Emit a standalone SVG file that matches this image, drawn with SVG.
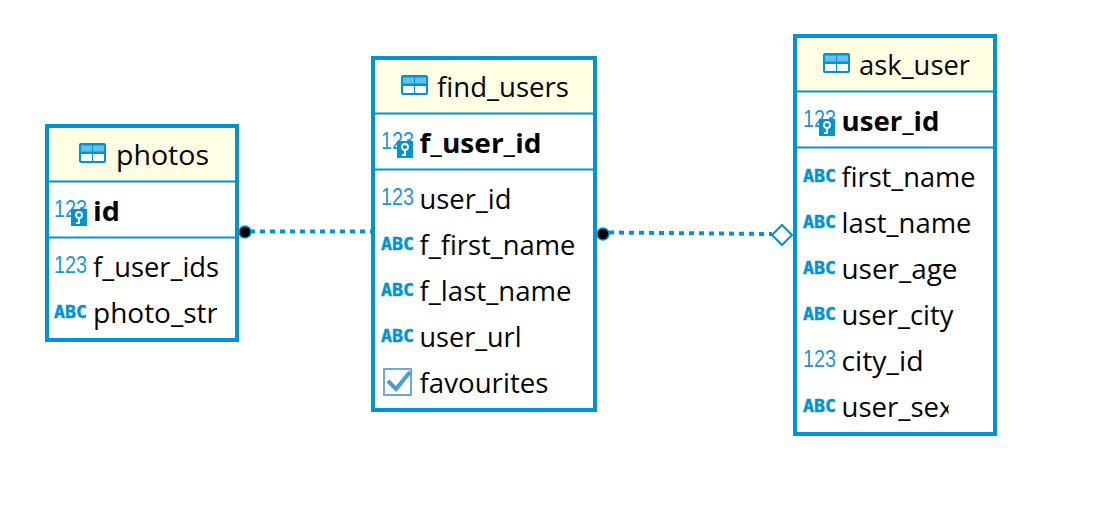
<svg xmlns="http://www.w3.org/2000/svg" width="1108" height="518" viewBox="0 0 1108 518">
<style>
.box{fill:#fff;stroke:#0293d3;stroke-width:4}
.head{fill:#ffffe3}
.sep{stroke:#0293d3;stroke-width:2;fill:none}
.t{font-family:"Open Sans","Noto Sans",sans-serif;font-size:27px;fill:#050505}
.b{font-weight:700}
.n{font-family:"Liberation Sans",sans-serif;font-size:23px;fill:#1f96d6}
.a{font-family:"DejaVu Sans Mono",monospace;font-weight:700;font-size:18px;fill:#0293d3;stroke:#0293d3;stroke-width:.5px}
.conn{stroke:#0293d3;stroke-width:4;stroke-dasharray:5 5;fill:none}
</style>
<defs>
<g id="tbl"><rect x="0" y="0" width="27" height="20" rx="2" fill="#0293d3"/><rect x="2" y="2.500" width="11" height="6" fill="#62c0ee"/><rect x="14" y="2.500" width="11" height="6" fill="#62c0ee"/><rect x="2" y="11" width="11" height="7" fill="#fff"/><rect x="14" y="11" width="11" height="7" fill="#fff"/></g>
<g id="key"><rect x="0" y="0" width="16" height="17" fill="#0293d3"/><circle cx="8" cy="6" r="3" fill="none" stroke="#fff" stroke-width="1.800"/><path d="M8 9v5h-3" fill="none" stroke="#fff" stroke-width="1.800"/></g>
<clipPath id="c1"><rect x="49" y="240" width="168" height="98"/></clipPath>
<clipPath id="c3"><rect x="798" y="150" width="150.500" height="282"/></clipPath>
</defs>
<g id="connectors">
<path class="conn" d="M250 231.500H373"/>
<path class="conn" d="M609 232.500L772 234"/>
<circle cx="245" cy="232" r="6" fill="#000" stroke="#0293d3" stroke-width="1.500"/>
<circle cx="603" cy="234" r="6" fill="#000" stroke="#0293d3" stroke-width="1.500"/>
<path d="M772 235L782 225L792 235L782 245Z" fill="#fff" stroke="#0293d3" stroke-width="2"/>
</g>
<g id="photos">
<rect class="box" x="47" y="126" width="190" height="214"/>
<rect class="head" x="49" y="128" width="186" height="53"/>
<path class="sep" d="M49 181.500H235M49 237.500H235"/>
<use href="#tbl" x="79" y="143"/>
<text class="t" x="116" y="165" textLength="93" lengthAdjust="spacingAndGlyphs">photos</text>
<text class="n" x="54" y="217" textLength="33" lengthAdjust="spacingAndGlyphs">123</text><use href="#key" x="71" y="209"/>
<text class="t b" x="93" y="221" textLength="27" lengthAdjust="spacingAndGlyphs">id</text>
<text class="n" x="54" y="273" textLength="33" lengthAdjust="spacingAndGlyphs">123</text>
<text class="t" x="93" y="277" textLength="126" lengthAdjust="spacingAndGlyphs">f_user_ids</text>
<text class="a" x="54" y="318" textLength="33" lengthAdjust="spacingAndGlyphs">ABC</text>
<g clip-path="url(#c1)"><text class="t" x="93" y="323" textLength="125" lengthAdjust="spacingAndGlyphs">photo_str</text></g>
</g>
<g id="find_users">
<rect class="box" x="373" y="58" width="222" height="352"/>
<rect class="head" x="375" y="60" width="218" height="53"/>
<path class="sep" d="M375 113.500H593M375 169.500H593"/>
<use href="#tbl" x="401" y="75"/>
<text class="t" x="437" y="97" textLength="132" lengthAdjust="spacingAndGlyphs">find_users</text>
<text class="n" x="381" y="149" textLength="33" lengthAdjust="spacingAndGlyphs">123</text><use href="#key" x="397" y="141"/>
<text class="t b" x="419.500" y="153" textLength="122" lengthAdjust="spacingAndGlyphs">f_user_id</text>
<text class="n" x="381" y="205" textLength="33" lengthAdjust="spacingAndGlyphs">123</text>
<text class="t" x="419.500" y="209" textLength="92" lengthAdjust="spacingAndGlyphs">user_id</text>
<text class="a" x="381" y="250" textLength="33" lengthAdjust="spacingAndGlyphs">ABC</text>
<text class="t" x="419.500" y="255" textLength="156" lengthAdjust="spacingAndGlyphs">f_first_name</text>
<text class="a" x="381" y="296" textLength="33" lengthAdjust="spacingAndGlyphs">ABC</text>
<text class="t" x="419.500" y="301" textLength="152" lengthAdjust="spacingAndGlyphs">f_last_name</text>
<text class="a" x="381" y="342" textLength="33" lengthAdjust="spacingAndGlyphs">ABC</text>
<text class="t" x="419.500" y="347" textLength="102" lengthAdjust="spacingAndGlyphs">user_url</text>
<rect x="384" y="369" width="27" height="26" fill="#fff" stroke="#6fa8d8" stroke-width="2"/>
<path d="M388 381L396 389L410 372" fill="none" stroke="#4a9bdc" stroke-width="4"/>
<text class="t" x="419.500" y="393" textLength="129" lengthAdjust="spacingAndGlyphs">favourites</text>
</g>
<g id="ask_user">
<rect class="box" x="795" y="36" width="200" height="398"/>
<rect class="head" x="797" y="38" width="196" height="53"/>
<path class="sep" d="M797 91.500H993M797 147.500H993"/>
<use href="#tbl" x="823" y="53"/>
<text class="t" x="859" y="75" textLength="111" lengthAdjust="spacingAndGlyphs">ask_user</text>
<text class="n" x="803" y="127" textLength="33" lengthAdjust="spacingAndGlyphs">123</text><use href="#key" x="819" y="119"/>
<text class="t b" x="841.500" y="131" textLength="98" lengthAdjust="spacingAndGlyphs">user_id</text>
<text class="a" x="803" y="182" textLength="33" lengthAdjust="spacingAndGlyphs">ABC</text>
<text class="t" x="841.500" y="187" textLength="134" lengthAdjust="spacingAndGlyphs">first_name</text>
<text class="a" x="803" y="228" textLength="33" lengthAdjust="spacingAndGlyphs">ABC</text>
<text class="t" x="841.500" y="233" textLength="130" lengthAdjust="spacingAndGlyphs">last_name</text>
<text class="a" x="803" y="274" textLength="33" lengthAdjust="spacingAndGlyphs">ABC</text>
<text class="t" x="841.500" y="279" textLength="116" lengthAdjust="spacingAndGlyphs">user_age</text>
<text class="a" x="803" y="320" textLength="33" lengthAdjust="spacingAndGlyphs">ABC</text>
<text class="t" x="841.500" y="325" textLength="112" lengthAdjust="spacingAndGlyphs">user_city</text>
<text class="n" x="803" y="367" textLength="33" lengthAdjust="spacingAndGlyphs">123</text>
<text class="t" x="841.500" y="371" textLength="82" lengthAdjust="spacingAndGlyphs">city_id</text>
<text class="a" x="803" y="412" textLength="33" lengthAdjust="spacingAndGlyphs">ABC</text>
<g clip-path="url(#c3)"><text class="t" x="841.500" y="417" textLength="112" lengthAdjust="spacingAndGlyphs">user_sex</text></g>
</g>
</svg>
